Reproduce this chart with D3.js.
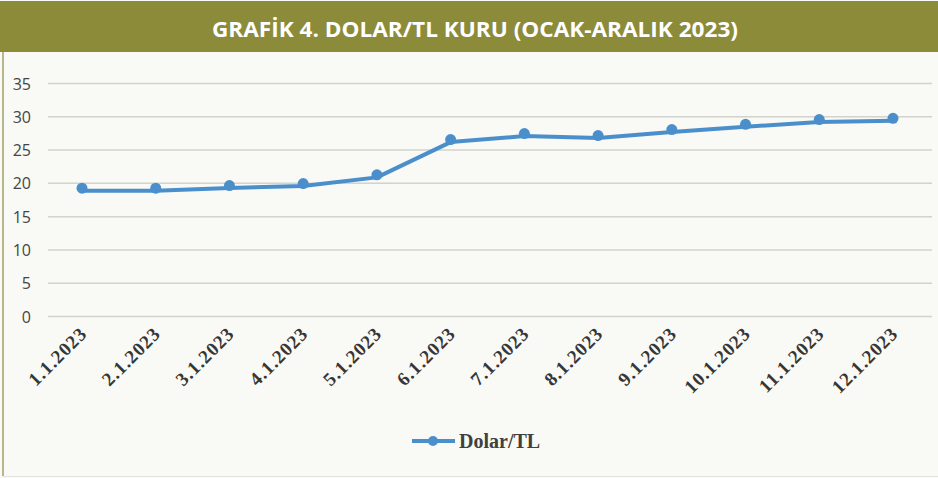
<!DOCTYPE html>
<meta charset="utf-8">
<head>
<script src="https://d3js.org/d3.v7.min.js"></script>
<style>
  body { margin: 0; background: #f9f9f5; }
  svg { display: block; }
</style>
</head>
<body>
<div id="chart"></div>
<script>
  // data
  var months = ["1.1.2023", "2.1.2023", "3.1.2023", "4.1.2023", "5.1.2023", "6.1.2023",
                "7.1.2023", "8.1.2023", "9.1.2023", "10.1.2023", "11.1.2023", "12.1.2023"];
  var rates = [18.9, 18.9, 19.3, 19.6, 20.9, 26.2, 27.1, 26.8, 27.7, 28.5, 29.2, 29.4];
  var yTicks = [0, 5, 10, 15, 20, 25, 30, 35];
  var seriesName = "Dolar/TL";
  var title = "GRAFİK 4. DOLAR/TL KURU (OCAK-ARALIK 2023)";

  var W = 938, H = 478;
  var blue = "#4a8fcb";

  var svg = d3.select("#chart").append("svg")
    .attr("width", W).attr("height", H);

  // background + frame
  svg.append("rect").attr("x", 0).attr("y", 0).attr("width", W).attr("height", H)
    .attr("fill", "#f9f9f5");
  svg.append("line").attr("x1", 3).attr("x2", 3).attr("y1", 50).attr("y2", H - 2)
    .attr("stroke", "#b9b68c").attr("stroke-width", 2);
  svg.append("line").attr("x1", 3).attr("x2", W).attr("y1", H - 1.5).attr("y2", H - 1.5)
    .attr("stroke", "#e4e4de").attr("stroke-width", 1);

  // title banner
  svg.append("rect").attr("x", 0).attr("y", 1).attr("width", W).attr("height", 51)
    .attr("fill", "#8b8b39");
  svg.append("text")
    .attr("x", 475).attr("y", 37)
    .attr("text-anchor", "middle")
    .attr("font-family", "'Open Sans', sans-serif")
    .attr("font-weight", 700)
    .attr("font-size", "22px")
    .attr("fill", "#ffffff")
    .attr("textLength", 526)
    .attr("lengthAdjust", "spacingAndGlyphs")
    .text(title);

  // scales
  var x = d3.scalePoint().domain(months).range([82, 893]);
  var y = d3.scaleLinear().domain([0, 35]).range([316.5, 83.5]);

  // gridlines
  svg.append("g").selectAll("line")
    .data(yTicks).enter().append("line")
      .attr("x1", 48).attr("x2", 932)
      .attr("y1", function(d){ return y(d); })
      .attr("y2", function(d){ return y(d); })
      .attr("stroke", "#d3d3ce")
      .attr("stroke-width", 1.5);

  // y axis labels
  svg.append("g").selectAll("text")
    .data(yTicks).enter().append("text")
      .attr("x", 31)
      .attr("y", function(d){ return y(d) + 6; })
      .attr("text-anchor", "end")
      .attr("font-family", "'Open Sans', sans-serif")
      .attr("font-size", "16px")
      .attr("fill", "#454545")
      .text(function(d){ return d; });

  // x axis labels, rotated
  svg.append("g").selectAll("text")
    .data(months).enter().append("text")
      .attr("transform", function(d){ return "translate(" + (x(d) + 6) + ",335) rotate(-45)"; })
      .attr("text-anchor", "end")
      .attr("font-family", "'Liberation Serif', 'Times New Roman', serif")
      .attr("font-weight", 700)
      .attr("font-size", "19px")
      .attr("letter-spacing", "0.9px")
      .attr("fill", "#363636")
      .text(function(d){ return d; });

  // line
  var line = d3.line()
    .x(function(d, i){ return x(months[i]); })
    .y(function(d){ return y(d); });

  svg.append("path")
    .datum(rates)
    .attr("d", line)
    .attr("fill", "none")
    .attr("stroke", blue)
    .attr("stroke-width", 4)
    .attr("stroke-linejoin", "round");

  // markers (sit a little above the line in the original)
  svg.append("g").selectAll("circle")
    .data(rates).enter().append("circle")
      .attr("cx", function(d, i){ return x(months[i]); })
      .attr("cy", function(d){ return y(d) - 2.5; })
      .attr("r", 5.5)
      .attr("fill", blue);

  // legend
  var lg = svg.append("g").attr("transform", "translate(412,441)");
  lg.append("line").attr("x1", 0).attr("x2", 43).attr("y1", 0).attr("y2", 0)
    .attr("stroke", blue).attr("stroke-width", 4);
  lg.append("circle").attr("cx", 21).attr("cy", 0).attr("r", 5).attr("fill", blue);
  lg.append("text")
    .attr("x", 47).attr("y", 7)
    .attr("font-family", "'Liberation Serif', 'Times New Roman', serif")
    .attr("font-weight", 700)
    .attr("font-size", "20px")
    .attr("fill", "#404040")
    .text(seriesName);
</script>
</body>
